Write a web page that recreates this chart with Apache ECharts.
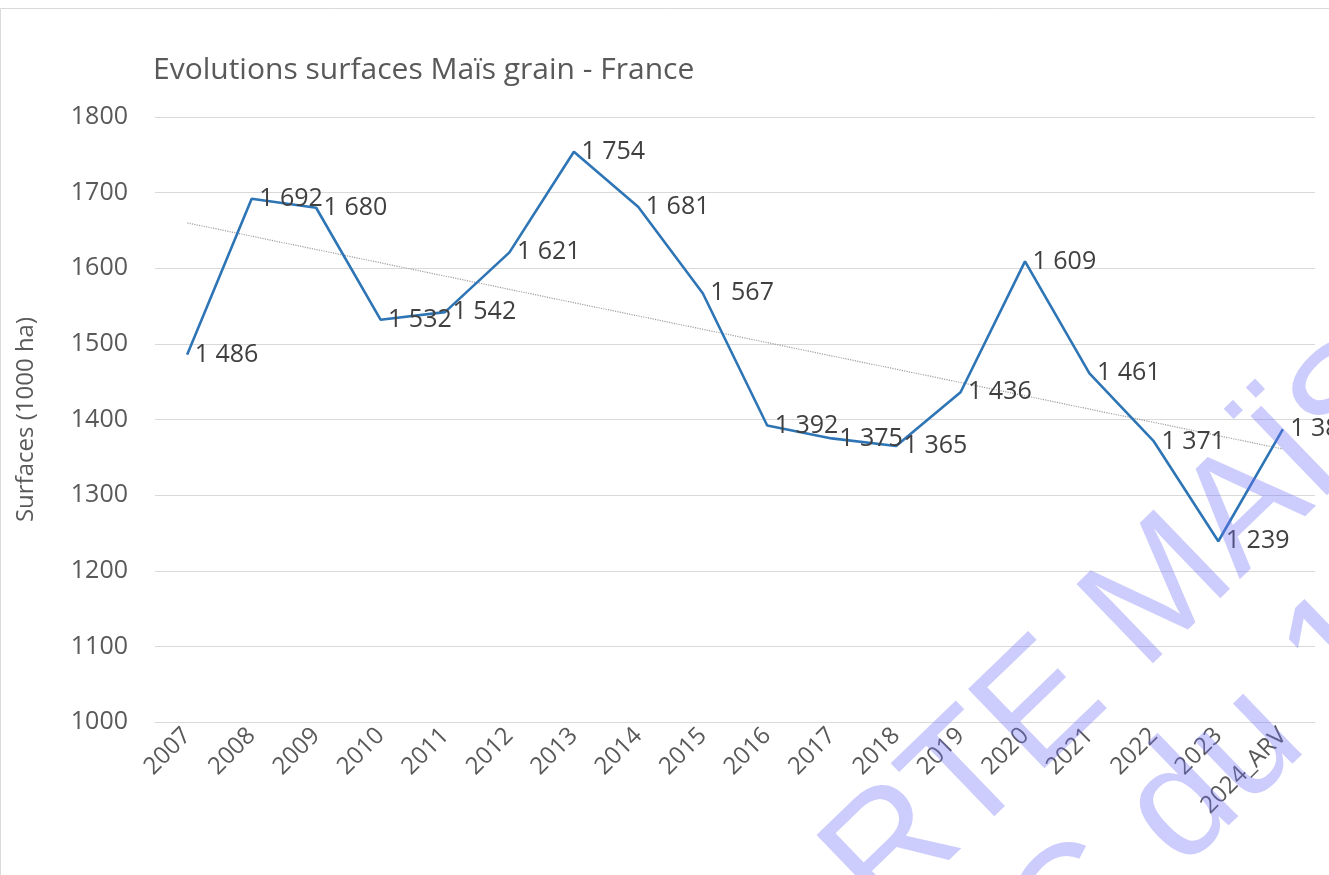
<!DOCTYPE html>
<html>
<head>
<meta charset="utf-8">
<title>Evolutions surfaces Maïs grain - France</title>
<script src="https://cdn.jsdelivr.net/npm/echarts@6/dist/echarts.min.js"></script>
<style>
  html, body { margin: 0; padding: 0; background: #fff; }
  #chart { width: 1329px; height: 875px; }
</style>
</head>
<body>
<div id="chart"></div>
<script>
// données
var annees = ['2007','2008','2009','2010','2011','2012','2013','2014','2015','2016','2017','2018','2019','2020','2021','2022','2023','2024_ARV'];
var surfaces = [1486, 1692, 1680, 1532, 1542, 1621, 1754, 1681, 1567, 1392, 1375, 1365, 1436, 1609, 1461, 1371, 1239, 1387];
// tendance linéaire (valeurs de début et de fin lues)
var tendance = [['2007', 1660], ['2024_ARV', 1361]];
var axeY = { min: 1000, max: 1800, pas: 100 };

var police = 'Open Sans, Noto Sans, sans-serif';
var gris = '#595959';
var filigrane = 'rgba(110,110,250,0.35)';
var angleFiligrane = 44 * Math.PI / 180;

function sepMilliers(v) {
  return String(v).replace(/\B(?=(\d{3})+(?!\d))/g, ' ');
}

var chart = echarts.init(document.getElementById('chart'));

var option = {
  animation: false,
  title: {
    text: 'Evolutions surfaces Maïs grain - France',
    left: 148,
    top: 50,
    textStyle: { fontFamily: police, fontSize: 30, fontWeight: 'normal', color: gris }
  },
  grid: { left: 155, right: 14, top: 117, bottom: 153 },
  xAxis: {
    type: 'category',
    data: annees,
    boundaryGap: true,
    axisLine: { lineStyle: { color: '#d9d9d9' } },
    axisTick: { show: false },
    axisLabel: {
      rotate: 45,
      margin: 10,
      interval: 0,
      fontFamily: police,
      fontSize: 24,
      color: gris
    }
  },
  yAxis: {
    type: 'value',
    min: axeY.min,
    max: axeY.max,
    interval: axeY.pas,
    name: 'Surfaces (1000 ha)',
    nameLocation: 'middle',
    nameGap: 117,
    nameTextStyle: { fontFamily: police, fontSize: 24, color: gris },
    axisLine: { show: false },
    axisTick: { show: false },
    splitLine: { lineStyle: { color: '#d9d9d9', width: 1 } },
    axisLabel: {
      fontFamily: police, fontSize: 25, color: gris, margin: 27,
      formatter: function (v) { return String(v); }
    }
  },
  series: [
    {
      name: 'Surfaces',
      type: 'line',
      data: surfaces,
      symbol: 'circle',
      symbolSize: 1,
      showSymbol: true,
      lineStyle: { color: '#2E75B6', width: 2.6 },
      itemStyle: { color: '#2E75B6' },
      label: {
        show: true,
        position: 'right',
        distance: 7,
        fontFamily: police,
        fontSize: 25,
        color: '#404040',
        formatter: function (p) { return sepMilliers(p.value); }
      },
      z: 3
    },
    {
      name: 'Tendance',
      type: 'line',
      data: tendance,
      symbol: 'none',
      silent: true,
      lineStyle: { color: '#a0a0a0', width: 1.2, type: 'dotted' },
      z: 2
    }
  ],
  graphic: [
    {
      type: 'rect',
      shape: { x: 0.5, y: 8.5, width: 1400, height: 900 },
      style: { fill: 'none', stroke: '#d9d9d9', lineWidth: 1 },
      silent: true,
      z: -1
    },
    {
      type: 'text',
      x: 693, y: 1046,
      rotation: angleFiligrane,
      silent: true,
      z: 10,
      style: {
        text: 'CARTE MAÏS',
        fontFamily: 'Liberation Sans, sans-serif',
        fontSize: 160,
        fill: filigrane,
        textAlign: 'left',
        textVerticalAlign: 'middle'
      }
    },
    {
      type: 'text',
      x: 1036, y: 950,
      rotation: angleFiligrane,
      silent: true,
      z: 10,
      style: {
        text: 'C du 1',
        fontFamily: 'Liberation Sans, sans-serif',
        fontSize: 160,
        fill: filigrane,
        textAlign: 'left',
        textVerticalAlign: 'middle'
      }
    }
  ]
};

chart.setOption(option);
</script>
</body>
</html>
